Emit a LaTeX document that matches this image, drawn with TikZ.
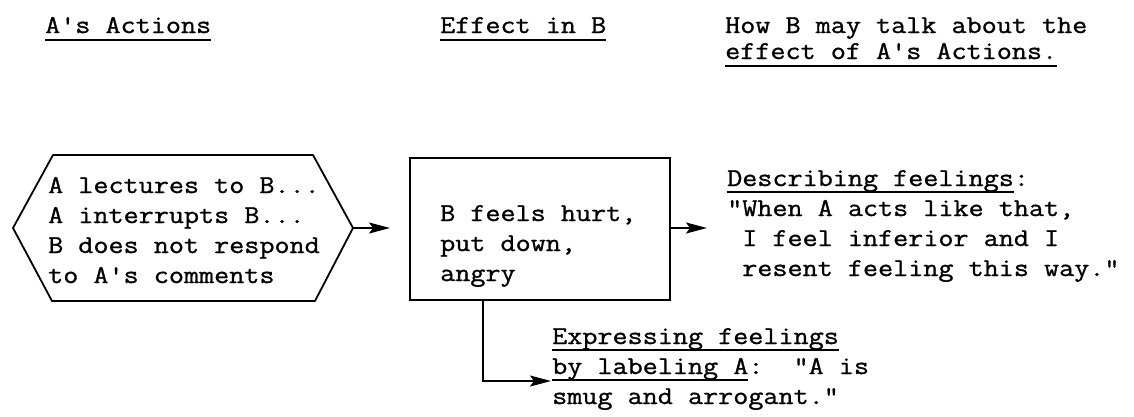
\documentclass[tikz,border=0pt]{standalone}
\usepackage{fontspec}
\setmonofont{Latin Modern Mono}[FakeStretch=1.14,FakeBold=1.0]
\usetikzlibrary{arrows.meta}
\newcommand\ulh[1]{\setbox0\hbox{#1}\rlap{\rule[-8pt]{\wd0}{1.8pt}}\box0}
\newcommand\ulb[1]{\setbox0\hbox{#1}\rlap{\rule[-7pt]{\wd0}{1.6pt}}\box0}
\tikzset{
  txt/.style={inner sep=0pt, anchor=base west, align=left, font=\ttfamily\fontsize{25.7pt}{30pt}\selectfont},
  hdr/.style={txt, font=\ttfamily\fontsize{25.7pt}{26pt}\selectfont},
  shape line/.style={line width=1.8pt, line join=round},
  arr/.style={line width=1.8pt, -{Stealth[length=21pt,width=11pt,inset=4pt]}},
}
\begin{document}
\begin{tikzpicture}[x=1pt,y=-1pt]
\useasboundingbox (0,0) rectangle (1134,416);
% headers (base anchor = baseline of last line)
\node[hdr] (h1) at (45,33) {\ulh{A's Actions}};
\node[hdr] (h2) at (440,33) {\ulh{Effect in B}};
\node[hdr] (h3) at (725,59) {How B may talk about the\\\ulh{effect of A's Actions.}};
% hexagon
\coordinate (hexTL) at (53,155);
\coordinate (hexTR) at (313,155);
\coordinate (hexR) at (353,228);
\coordinate (hexBR) at (315,301);
\coordinate (hexBL) at (52,301);
\coordinate (hexL) at (13,228);
\draw[shape line] (hexTL) -- (hexTR) -- (hexR) -- (hexBR) -- (hexBL) -- (hexL) -- cycle;
\node[txt] (acts) at (48,283) {A lectures to B...\\A interrupts B...\\B does not respond\\to A's comments};
% box
\node[draw, line width=2pt, minimum width=260pt, minimum height=142pt, inner sep=0pt, outer sep=0pt, anchor=north west] (box) at (410,158) {};
\node[txt] (eff) at (440,281) {B feels hurt,\\put down,\\angry};
% describing
\node[txt] (desc) at (727,276) {\ulb{Describing feelings}:\\"When A acts like that,\\~I feel inferior and I\\~resent feeling this way."};
% expressing
\node[txt] (expr) at (552,404) {\ulb{Expressing feelings}\\\ulb{by labeling A}:~~"A is\\smug and arrogant."};
% connectors
\coordinate (d2) at (707,228);
\coordinate (e3) at (551,381);
\draw[arr, shorten >=20pt] (hexR) -- (hexR -| box.west);
\draw[arr] (box.east |- hexR) -- (d2);
\draw[arr] (box.south -| 483,0) |- (e3);
\end{tikzpicture}
\end{document}
